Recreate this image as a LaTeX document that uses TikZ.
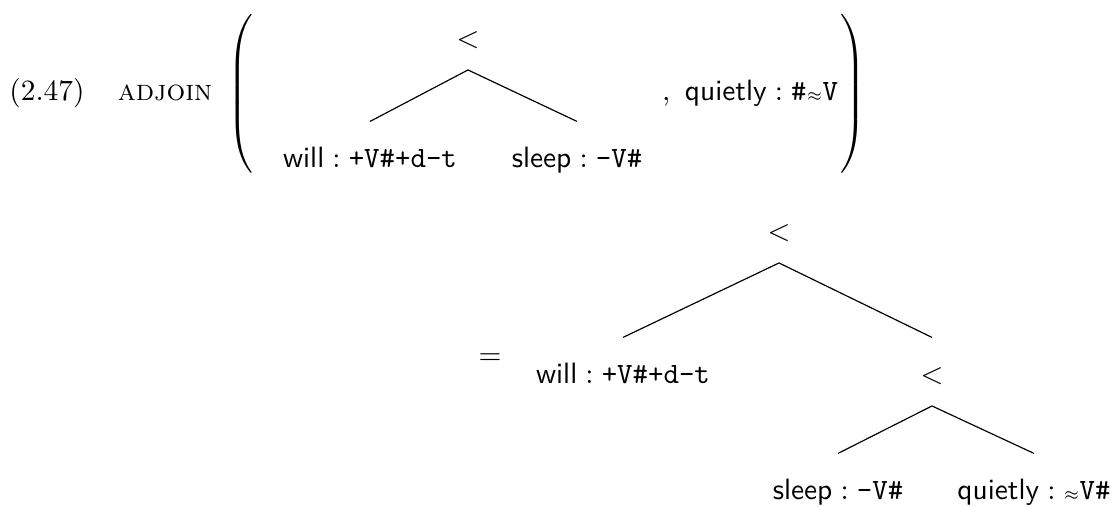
\documentclass[tikz,border=0pt]{standalone}
\newcommand{\lexitem}[2]{$\textsf{#1}:\texttt{#2}$}
\newcommand{\apx}{\ensuremath{{\scriptscriptstyle\approx}}}
\begin{document}
\begin{tikzpicture}[x=0.34pt,y=-0.34pt,
    word/.style={inner sep=0pt, anchor=base},
    tnode/.style={inner xsep=0pt, inner ysep=0pt, text height=15.3pt, text depth=7.6pt, anchor=base},
    delim/.style={inner sep=0pt}
  ]
  \useasboundingbox (0,0) rectangle (1118,506);
  % example number and operation
  \node[word] (num) at (47,100) {(2.47)};
  \node[word] (op) at (165,100) {\textsc{adjoin}};
  \node[delim] (lparen) at (240,94) {$\nulldelimiterspace=0pt\left(\vcenter{\hbox{\rule{0pt}{58pt}}}\right.$};
  \node[delim] (rparen) at (853,94) {$\nulldelimiterspace=0pt\left.\vcenter{\hbox{\rule{0pt}{58pt}}}\right)$};

  % argument tree
  \node[tnode] (lt1) at (468,47) {$<$};
  \node[tnode] (will1) at (370,167) {\lexitem{will}{+V\#+d-t}};
  \node[tnode] (sleep1) at (577,167) {\lexitem{sleep}{-V\#}};
  \node[word] (adv1) at (750,100) {,\enspace\lexitem{quietly}{\#\apx V}};
  \draw (lt1.south) -- (will1.north);
  \draw (lt1.south) -- (sleep1.north);

  % result tree
  \node[word] (eq) at (490,364) {$=$};
  \node[tnode] (lt2) at (779,240) {$<$};
  \node[tnode] (will2) at (623,383) {\lexitem{will}{+V\#+d-t}};
  \node[tnode] (lt3) at (932,383) {$<$};
  \node[tnode] (sleep2) at (838,499) {\lexitem{sleep}{-V\#}};
  \node[tnode] (adv2) at (1034,499) {\lexitem{quietly}{\apx V\#}};
  \draw (lt2.south) -- (will2.north);
  \draw (lt2.south) -- (lt3.north);
  \draw (lt3.south) -- (sleep2.north);
  \draw (lt3.south) -- (adv2.north);
\end{tikzpicture}
\end{document}
